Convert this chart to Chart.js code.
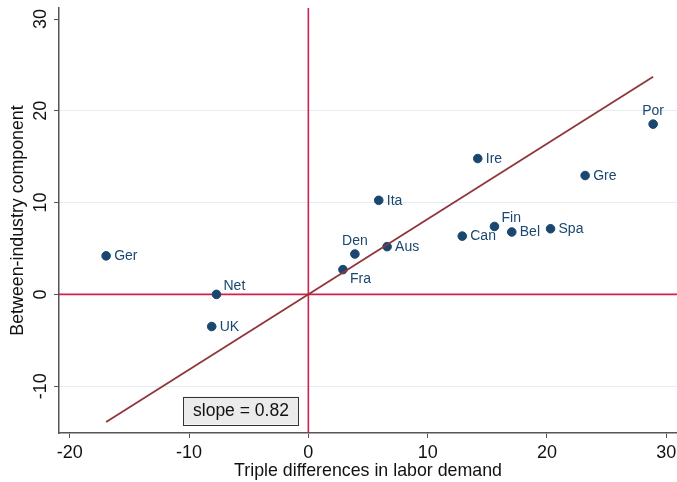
<!DOCTYPE html>
<html>
<head>
<meta charset="utf-8">
<script src="https://cdn.jsdelivr.net/npm/chart.js@4.4.1/dist/chart.umd.min.js"></script>
<style>
  html, body { margin: 0; padding: 0; background: #fff; }
  #wrap { width: 677px; height: 482px; }
</style>
</head>
<body>
<div id="wrap"><canvas id="scatterChart"></canvas></div>
<script>
// data
const countries = ['Ger', 'Net', 'UK', 'Fra', 'Den', 'Aus', 'Ita', 'Can', 'Ire', 'Fin', 'Bel', 'Spa', 'Gre', 'Por'];
const tripleDiff = [-16.95, -7.7, -8.1, 2.9, 3.9, 6.6, 5.9, 12.9, 14.2, 15.6, 17.05, 20.3, 23.2, 28.9];
const betweenInd = [4.2, 0.0, -3.5, 2.7, 4.4, 5.2, 10.25, 6.35, 14.8, 7.4, 6.8, 7.15, 12.95, 18.55];
const slope = 0.82;

const xTicks = [-20, -10, 0, 10, 20, 30];
const yTicks = [-10, 0, 10, 20, 30];
const xMin = -20.9, xMax = 30.9;
const yMin = -15.1, yMax = 31.2;

// label placement (clock position), default is 3 o'clock
const labelPlace = { Net: 2, Fin: 2, Den: 12, Por: 12, Fra: 4 };

const navy = '#1a476f';
const refRed = '#d21f4e';
const fitRed = '#90353b';
const fontFam = '"Liberation Sans", Arial, Helvetica, sans-serif';

Chart.defaults.font.family = fontFam;

const points = countries.map((c, i) => ({ x: tripleDiff[i], y: betweenInd[i] }));
const fitX0 = Math.min(...tripleDiff);
const fitX1 = Math.max(...tripleDiff);

// country labels, y tick labels and the slope box
const extrasPlugin = {
  id: 'extras',
  afterDatasetsDraw(chart) {
    const ctx = chart.ctx;
    const meta = chart.getDatasetMeta(1);
    ctx.save();
    ctx.font = '14px ' + fontFam;
    ctx.fillStyle = navy;
    meta.data.forEach((pt, i) => {
      const pos = labelPlace[countries[i]] || 3;
      let x = pt.x, y = pt.y;
      if (pos === 3) { ctx.textAlign = 'left'; ctx.textBaseline = 'middle'; x += 8; y += 0.5; }
      else if (pos === 2) { ctx.textAlign = 'left'; ctx.textBaseline = 'middle'; x += 7; y -= 8.5; }
      else if (pos === 12) { ctx.textAlign = 'center'; ctx.textBaseline = 'middle'; y -= 12.5; }
      else if (pos === 4) { ctx.textAlign = 'left'; ctx.textBaseline = 'middle'; x += 7; y += 10; }
      ctx.fillText(countries[i], x, y);
    });

    // y tick labels, turned like the original
    const ys = chart.scales.y;
    ctx.font = '18px ' + fontFam;
    ctx.fillStyle = '#111';
    ctx.textAlign = 'center';
    ctx.textBaseline = 'middle';
    yTicks.forEach(v => {
      const py = ys.getPixelForValue(v);
      ctx.save();
      ctx.translate(ys.right - 18, py);
      ctx.rotate(-Math.PI / 2);
      ctx.fillText(String(v), 0, 0);
      ctx.restore();
    });

    // slope box
    const xs = chart.scales.x;
    const cx = xs.getPixelForValue(-5.65);
    const cy = ys.getPixelForValue(-12.65);
    const w = 115, h = 28;
    ctx.fillStyle = '#ebebeb';
    ctx.fillRect(cx - w / 2, cy - h / 2, w, h);
    ctx.strokeStyle = '#333';
    ctx.lineWidth = 1;
    ctx.strokeRect(Math.round(cx - w / 2) + 0.5, Math.round(cy - h / 2) + 0.5, w, h);
    ctx.fillStyle = '#111';
    ctx.font = '17.5px ' + fontFam;
    ctx.fillText('slope = ' + slope.toFixed(2), cx, cy + 1);
    ctx.restore();
  }
};

const ctx = document.getElementById('scatterChart').getContext('2d');
const chart = new Chart(ctx, {
  type: 'scatter',
  data: {
    datasets: [
      {
        type: 'line',
        label: 'fit',
        data: [{ x: fitX0, y: slope * fitX0 }, { x: fitX1, y: slope * fitX1 }],
        borderColor: fitRed,
        borderWidth: 1.8,
        pointRadius: 0,
        order: 0
      },
      {
        label: 'countries',
        data: points,
        backgroundColor: navy,
        borderColor: navy,
        pointRadius: 4.3,
        pointHoverRadius: 4.3,
        order: 1
      },
      {
        type: 'line',
        label: 'x0',
        data: [{ x: 0, y: yMin }, { x: 0, y: yMax }],
        borderColor: refRed,
        borderWidth: 1.6,
        pointRadius: 0,
        order: 2
      },
      {
        type: 'line',
        label: 'y0',
        data: [{ x: xMin, y: 0 }, { x: xMax, y: 0 }],
        borderColor: refRed,
        borderWidth: 1.6,
        pointRadius: 0,
        order: 2
      }
    ]
  },
  options: {
    responsive: true,
    maintainAspectRatio: false,
    animation: false,
    layout: { autoPadding: false, padding: { top: 8, right: 0, left: 0, bottom: 0 } },
    plugins: {
      legend: { display: false },
      tooltip: { enabled: false }
    },
    scales: {
      x: {
        type: 'linear',
        min: xMin,
        max: xMax,
        afterBuildTicks: s => { s.ticks = xTicks.map(v => ({ value: v })); },
        afterFit: s => { s.height = 49; s.paddingLeft = 0; s.paddingRight = 0; },
        grid: { drawOnChartArea: false, drawTicks: true, tickLength: 5, tickColor: '#555', tickWidth: 1 },
        border: { display: true, color: '#555', width: 1.5 },
        ticks: { color: '#111', font: { size: 18 }, padding: 4, maxRotation: 0, autoSkip: false },
        title: {
          display: true,
          text: 'Triple differences in labor demand',
          color: '#111',
          font: { size: 17.8 },
          padding: { top: 0, bottom: 0 }
        }
      },
      y: {
        type: 'linear',
        min: yMin,
        max: yMax,
        afterBuildTicks: s => { s.ticks = yTicks.map(v => ({ value: v })); },
        afterFit: s => { s.width = 59; s.paddingTop = 0; s.paddingBottom = 0; },
        grid: {
          drawTicks: true,
          tickLength: 5,
          tickColor: '#555',
          color: c => (c.tick && c.tick.value === 30 ? 'rgba(0,0,0,0)' : '#e4eef0'),
          lineWidth: 1
        },
        border: { display: true, color: '#555', width: 1.5 },
        ticks: { display: false },
        title: {
          display: true,
          text: 'Between-industry component',
          color: '#111',
          font: { size: 17.8 },
          padding: { top: 7, bottom: 0 }
        }
      }
    }
  },
  plugins: [extrasPlugin]
});
</script>
</body>
</html>
